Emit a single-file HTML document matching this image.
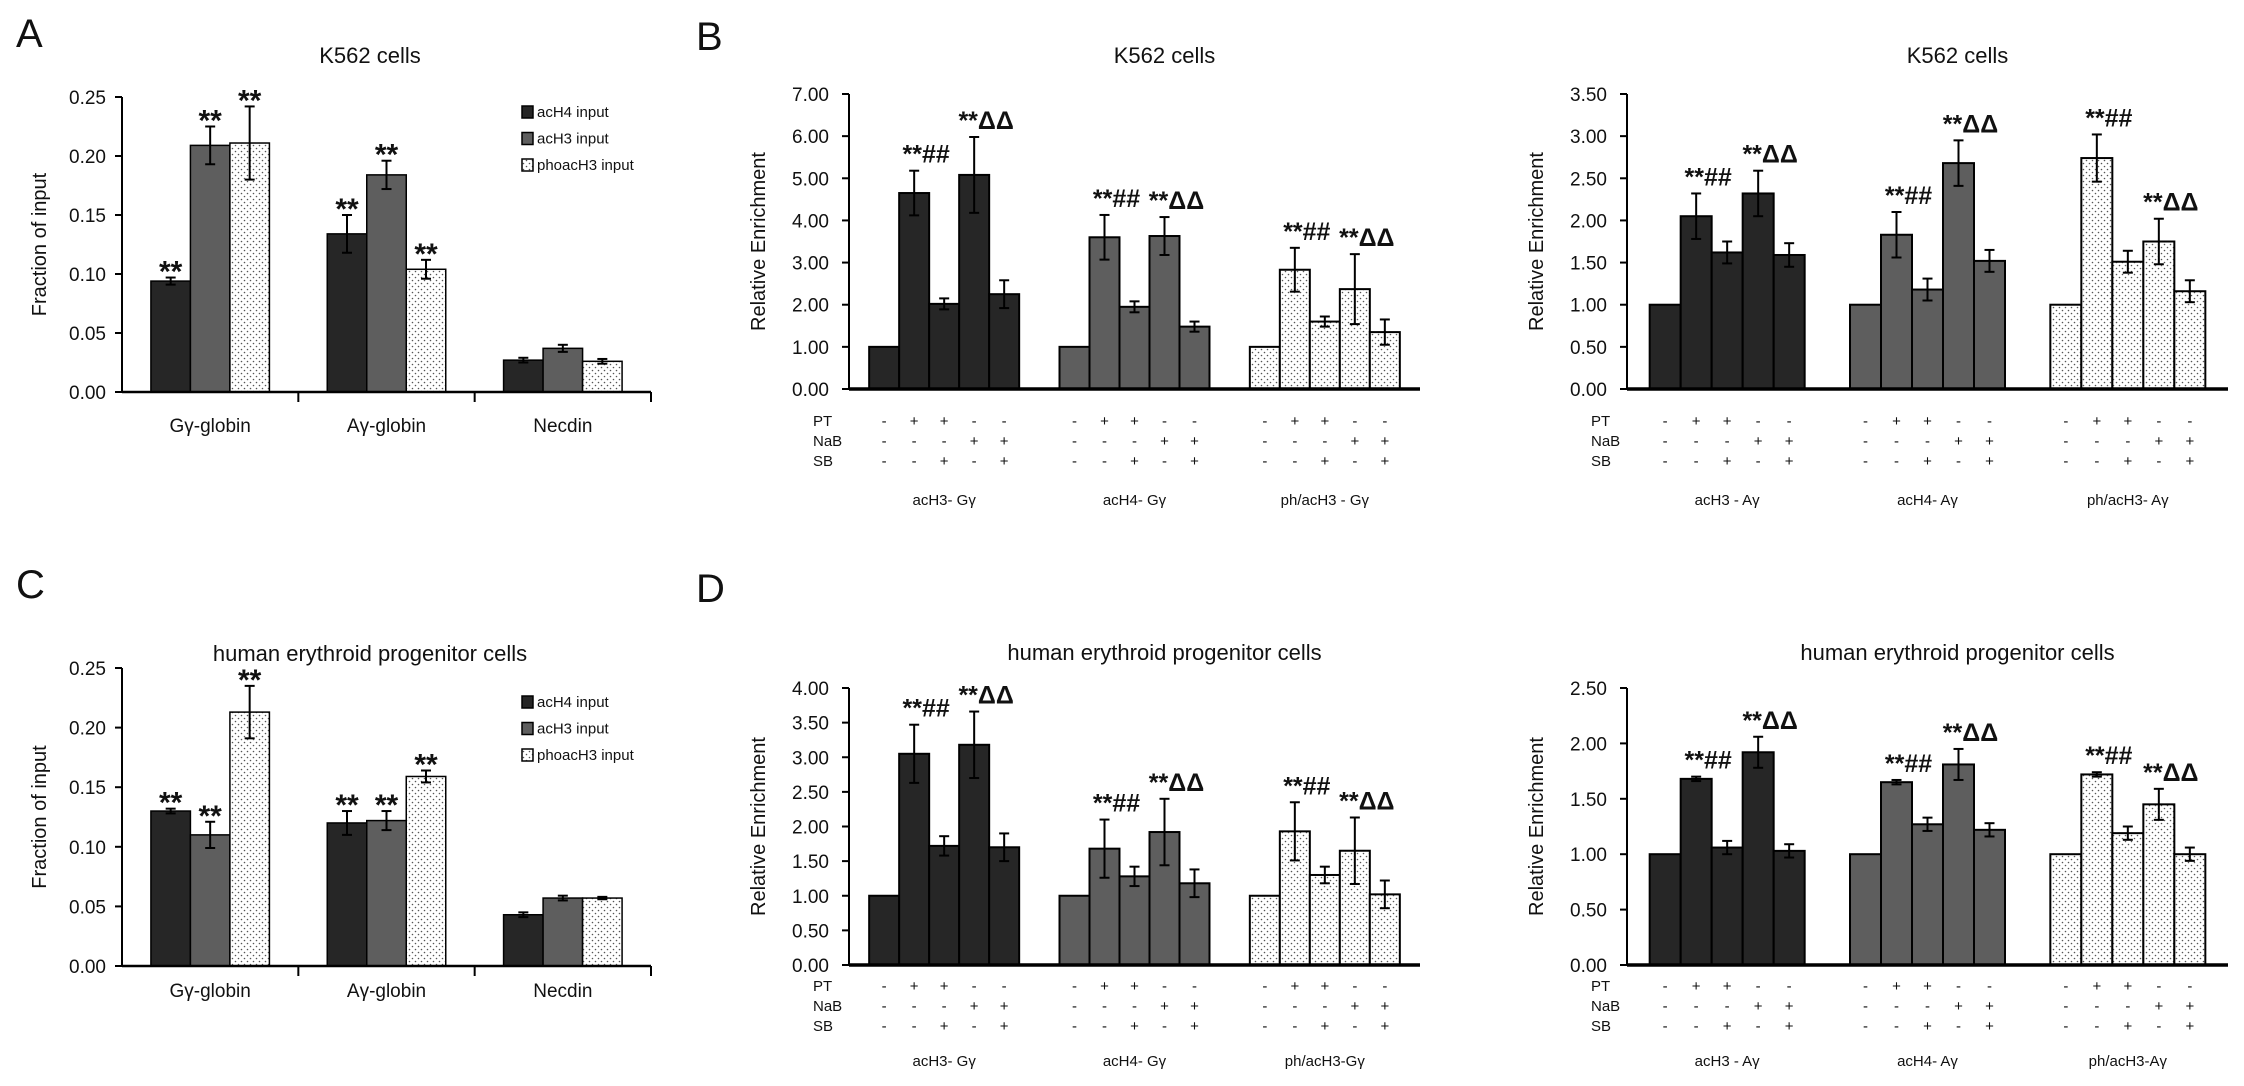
<!DOCTYPE html>
<html><head><meta charset="utf-8"><style>
html,body{margin:0;padding:0;background:#fff}
svg{display:block;font-family:"Liberation Sans",Arial,sans-serif}
</style></head><body>
<svg id="fig" width="2244" height="1086" viewBox="0 0 2244 1086">
<defs>
<pattern id="dots" width="6" height="6" patternUnits="userSpaceOnUse">
<rect width="6" height="6" fill="#fff"/><circle cx="1.5" cy="1.5" r="0.8" fill="#555"/><circle cx="4.5" cy="4.5" r="0.8" fill="#555"/>
</pattern>
</defs>
</svg>
<script>
// ---- Panel A / C data ----
const catsAC = ["Gγ-globin","Aγ-globin","Necdin"];
const seriesAC = ["acH4 input","acH3 input","phoacH3 input"];
const aVals = [[0.094,0.209,0.211],[0.134,0.184,0.104],[0.027,0.037,0.026]];
const aErrs = [[0.003,0.016,0.031],[0.016,0.012,0.008],[0.002,0.003,0.002]];
const aStars = [["**","**","**"],["**","**","**"],["","",""]];
const cVals = [[0.130,0.110,0.213],[0.120,0.122,0.159],[0.043,0.057,0.057]];
const cErrs = [[0.002,0.011,0.022],[0.010,0.008,0.005],[0.002,0.002,0.001]];
const cStars = [["**","**","**"],["**","**","**"],["","",""]];
const acTicks = [0,0.05,0.10,0.15,0.20,0.25];
// ---- Panel B / D data ----
const ptSigns = ["-","+","+","-","-"];
const nabSigns = ["-","-","-","+","+"];
const sbSigns = ["-","-","+","-","+"];
const annot = ["","**##","","**ΔΔ",""];
const bLCats = ["acH3- Gγ","acH4- Gγ","ph/acH3 - Gγ"];
const bLVals = [[1,4.65,2.02,5.08,2.25],[1,3.60,1.95,3.63,1.48],[1,2.83,1.60,2.37,1.35]];
const bLErrs = [[0,0.53,0.13,0.90,0.33],[0,0.53,0.13,0.45,0.12],[0,0.52,0.12,0.83,0.30]];
const bLTicks = [0,1,2,3,4,5,6,7];
const bRCats = ["acH3 - Aγ","acH4- Aγ","ph/acH3- Aγ"];
const bRVals = [[1,2.05,1.62,2.32,1.59],[1,1.83,1.18,2.68,1.52],[1,2.74,1.51,1.75,1.16]];
const bRErrs = [[0,0.27,0.13,0.27,0.14],[0,0.27,0.13,0.27,0.13],[0,0.28,0.13,0.27,0.13]];
const bRTicks = [0,0.5,1,1.5,2,2.5,3,3.5];
const dLCats = ["acH3- Gγ","acH4- Gγ","ph/acH3-Gγ"];
const dLVals = [[1,3.05,1.72,3.18,1.70],[1,1.68,1.28,1.92,1.18],[1,1.93,1.30,1.65,1.02]];
const dLErrs = [[0,0.42,0.14,0.48,0.20],[0,0.42,0.14,0.48,0.20],[0,0.42,0.12,0.48,0.20]];
const dLTicks = [0,0.5,1,1.5,2,2.5,3,3.5,4];
const dRCats = ["acH3 - Aγ","acH4- Aγ","ph/acH3-Aγ"];
const dRVals = [[1,1.68,1.06,1.92,1.03],[1,1.65,1.27,1.81,1.22],[1,1.72,1.19,1.45,1.00]];
const dRErrs = [[0,0.02,0.06,0.14,0.06],[0,0.02,0.06,0.14,0.06],[0,0.02,0.06,0.14,0.06]];
const dRTicks = [0,0.5,1,1.5,2,2.5];

const NS="http://www.w3.org/2000/svg";
const svg=document.getElementById('fig');
function mk(tag,attrs,parent,txt){const e=document.createElementNS(NS,tag);for(const k in attrs)e.setAttribute(k,attrs[k]);if(txt!==undefined)e.textContent=txt;(parent||svg).appendChild(e);return e;}
const fills=["#262626","#5e5e5e","url(#dots)"];

function txt(x,y,s,size,anchor,parent,name,extra){
  const t=mk('text',Object.assign({x:x,y:y,'font-size':size,'text-anchor':anchor||'middle',fill:'#111'},extra||{}),parent,s);
  
  
  return t;
}

function errBar(g,cx,yv,ye,w){
  mk('line',{x1:cx,x2:cx,y1:yv-ye,y2:yv+ye,stroke:'#000','stroke-width':2},g);
  mk('line',{x1:cx-w,x2:cx+w,y1:yv-ye,y2:yv-ye,stroke:'#000','stroke-width':2},g);
  mk('line',{x1:cx-w,x2:cx+w,y1:yv+ye,y2:yv+ye,stroke:'#000','stroke-width':2},g);
}

function chartAC(o){
  const g=mk('g',{});
  
  
  const max=acTicks[acTicks.length-1];
  const Y=v=>o.yB-(v/max)*(o.yB-o.yT);
  const gw=(o.x1-o.x0)/catsAC.length, bw=39.5, off=(gw-3*bw)/2;
  for(let i=0;i<catsAC.length;i++){
    for(let j=0;j<3;j++){
      const x=o.x0+i*gw+off+j*bw, v=o.vals[i][j];
      const r=mk('rect',{x:x,y:Y(v),width:bw,height:o.yB-Y(v),fill:fills[j],stroke:'#000','stroke-width':1.5},g);
      
      
      const cx=x+bw/2, e=o.errs[i][j]*(o.yB-o.yT)/max;
      errBar(g,cx,Y(v),e,5);
      if(o.stars[i][j]) txt(cx,Y(v)-e+4,o.stars[i][j],30,'middle',g,'significance-mark',{'font-weight':'bold'});
    }
    txt(o.x0+i*gw+gw/2,o.labY,catsAC[i],19,'middle',g,'category-label');
    if(i>0) mk('line',{x1:o.x0+i*gw,x2:o.x0+i*gw,y1:o.yB,y2:o.yB+10,stroke:'#000','stroke-width':2},g);
  }
  mk('line',{x1:o.x1,x2:o.x1,y1:o.yB,y2:o.yB+10,stroke:'#000','stroke-width':2},g);
  mk('line',{x1:o.x0,x2:o.x0,y1:o.yT,y2:o.yB,stroke:'#000','stroke-width':2},g);
  mk('line',{x1:o.x0,x2:o.x1,y1:o.yB,y2:o.yB,stroke:'#000','stroke-width':2.5},g);
  acTicks.forEach(t=>{mk('line',{x1:o.x0-7,x2:o.x0,y1:Y(t),y2:Y(t),stroke:'#000','stroke-width':2},g);
    txt(o.x0-16,Y(t)+7,t.toFixed(2),19,'end',g,'y-tick-label');});
  txt(0,0,'Fraction of input',20,'middle',g,'y-axis-title',{transform:`translate(46,${(o.yT+o.yB)/2}) rotate(-90)`});
  txt(370,o.titleY,o.title,22,'middle',g,'chart-title');
  seriesAC.forEach((s,j)=>{
    const r=mk('rect',{x:522,y:o.legY+j*26.5-6,width:11,height:12,fill:fills[j],stroke:'#000','stroke-width':1.5},g);
    
    
    txt(537,o.legY+j*26.5+5,s,15,'start',g,'legend-entry');
  });
}

function chartBD(o){
  const g=mk('g',{});
  
  
  const max=o.ticks[o.ticks.length-1];
  const Y=v=>o.yB-(v/max)*(o.yB-o.yT);
  const gw=(o.x1-o.x0)/3, bw=o.bw, off=(gw-5*bw)/2;
  for(let i=0;i<3;i++){
    for(let j=0;j<5;j++){
      const x=o.x0+i*gw+off+j*bw, v=o.vals[i][j];
      const r=mk('rect',{x:x,y:Y(v),width:bw,height:o.yB-Y(v),fill:fills[i],stroke:'#000','stroke-width':2},g);
      
      
      const cx=x+bw/2, e=o.errs[i][j]*(o.yB-o.yT)/max;
      if(e>0) errBar(g,cx,Y(v),e,5);
      if(annot[j]) txt(cx+12,Y(v)-e-8,annot[j],25,'middle',g,'significance-mark',{'font-weight':'bold'});
      txt(cx,o.signY[0],ptSigns[j],15,'middle',g,'pt-sign');
      txt(cx,o.signY[1],nabSigns[j],15,'middle',g,'nab-sign');
      txt(cx,o.signY[2],sbSigns[j],15,'middle',g,'sb-sign');
    }
    txt(o.x0+i*gw+gw/2,o.labY,o.cats[i],15,'middle',g,'category-label');
  }
  ['PT','NaB','SB'].forEach((s,k)=>txt(o.x0-36,o.signY[k],s,15,'start',g,'row-label-'+s.toLowerCase()));
  mk('line',{x1:o.x0,x2:o.x0,y1:o.yT,y2:o.yB,stroke:'#000','stroke-width':2},g);
  mk('line',{x1:o.x0,x2:o.x1,y1:o.yB,y2:o.yB,stroke:'#000','stroke-width':3.5},g);
  o.ticks.forEach(t=>{mk('line',{x1:o.x0-7,x2:o.x0,y1:Y(t),y2:Y(t),stroke:'#000','stroke-width':2},g);
    txt(o.x0-20,Y(t)+7,t.toFixed(2),19,'end',g,'y-tick-label');});
  txt(0,0,'Relative  Enrichment',20,'middle',g,'y-axis-title',{transform:`translate(${o.x0-84},${(o.yT+o.yB)/2}) rotate(-90)`});
  txt((o.x0+o.x1)/2+30,o.titleY,o.title,22,'middle',g,'chart-title');
}

chartAC({name:'panel-a-chart',x0:122,x1:651,yT:97,yB:392,vals:aVals,errs:aErrs,stars:aStars,labY:432,titleY:63,title:'K562 cells',legY:112});
chartAC({name:'panel-c-chart',x0:122,x1:651,yT:668,yB:966,vals:cVals,errs:cErrs,stars:cStars,labY:997,titleY:661,title:'human erythroid progenitor cells',legY:702});
chartBD({name:'panel-b-left-chart',x0:849,x1:1420,yT:94,yB:389,ticks:bLTicks,vals:bLVals,errs:bLErrs,cats:bLCats,bw:30,signY:[426,446,466],labY:505,titleY:63,title:'K562 cells'});
chartBD({name:'panel-b-right-chart',x0:1627,x1:2228,yT:94,yB:389,ticks:bRTicks,vals:bRVals,errs:bRErrs,cats:bRCats,bw:31,signY:[426,446,466],labY:505,titleY:63,title:'K562 cells'});
chartBD({name:'panel-d-left-chart',x0:849,x1:1420,yT:688,yB:965,ticks:dLTicks,vals:dLVals,errs:dLErrs,cats:dLCats,bw:30,signY:[991,1011,1031],labY:1066,titleY:660,title:'human erythroid progenitor cells'});
chartBD({name:'panel-d-right-chart',x0:1627,x1:2228,yT:688,yB:965,ticks:dRTicks,vals:dRVals,errs:dRErrs,cats:dRCats,bw:31,signY:[991,1011,1031],labY:1066,titleY:660,title:'human erythroid progenitor cells'});

txt(16,47,'A',40,'start',svg,'panel-label-a');
txt(696,50,'B',40,'start',svg,'panel-label-b');
txt(16,598,'C',40,'start',svg,'panel-label-c');
txt(696,602,'D',40,'start',svg,'panel-label-d');
</script>
</body></html>
